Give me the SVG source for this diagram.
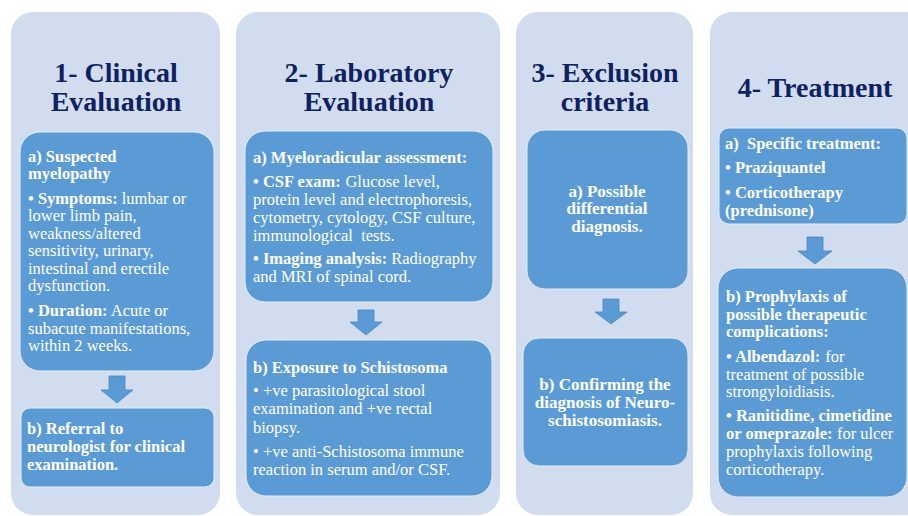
<svg xmlns="http://www.w3.org/2000/svg" width="908" height="516" viewBox="0 0 908 516">
<style>
.col{fill:#D1DDEE}
.box{fill:#5B9BD5;stroke:#E3ECF7;stroke-width:1}
.arr{fill:#5B9BD5;stroke:#4A86C2;stroke-width:0.8}
.title{font-weight:bold;font-size:28px;fill:#0E2160;text-anchor:middle}
.t{font-size:16.5px;fill:#FFFFFF}
.b{font-weight:bold}
.c{text-anchor:middle;font-weight:bold;font-size:17px}
</style>
<rect width="908" height="516" fill="#FFFFFF"/>
<g font-family="'Liberation Serif', 'Times New Roman', 'DejaVu Serif', serif">
<g id="column1">
<rect class="col" x="11" y="12" width="209" height="503" rx="22"/>
<text class="title" x="116" y="82">1- Clinical</text>
<text class="title" x="116" y="111">Evaluation</text>
</g>
<g id="column2">
<rect class="col" x="236" y="12" width="264" height="503" rx="22"/>
<text class="title" x="369" y="82">2- Laboratory</text>
<text class="title" x="369" y="111">Evaluation</text>
</g>
<g id="column3">
<rect class="col" x="516" y="12" width="177" height="503" rx="22"/>
<text class="title" x="605" y="82">3- Exclusion</text>
<text class="title" x="605" y="111">criteria</text>
</g>
<g id="column4">
<rect class="col" x="710" y="12" width="230" height="503" rx="22"/>
<text class="title" x="815" y="97">4- Treatment</text>
</g>

<g id="c1a">
<rect class="box" x="20" y="132" width="194" height="239" rx="20"/>
<text class="t"><tspan class="b" x="28" y="162">a) Suspected</tspan><tspan class="b" x="28" y="179">myelopathy</tspan><tspan class="b" x="28" y="204">• Symptoms:</tspan><tspan x="117.6" y="204"> lumbar or</tspan><tspan x="28" y="221">lower limb pain,</tspan><tspan x="28" y="239">weakness/altered</tspan><tspan x="28" y="256">sensitivity, urinary,</tspan><tspan x="28" y="274">intestinal and erectile</tspan><tspan x="28" y="291">dysfunction.</tspan><tspan class="b" x="28" y="316">• Duration:</tspan><tspan x="107.6" y="316"> Acute or</tspan><tspan x="28" y="334">subacute manifestations,</tspan><tspan x="28" y="351">within 2 weeks.</tspan></text>
</g>
<g id="c1b">
<rect class="box" x="21" y="408" width="193" height="79" rx="9"/>
<text class="t b"><tspan x="27" y="434">b) Referral to</tspan><tspan x="27" y="452">neurologist for clinical</tspan><tspan x="27" y="470">examination.</tspan></text>
</g>

<g id="c2a">
<rect class="box" x="245" y="131" width="248" height="171" rx="20"/>
<text class="t"><tspan class="b" x="253" y="163">a) Myeloradicular assessment:</tspan><tspan class="b" x="253" y="187">• CSF exam:</tspan><tspan x="341.3" y="187"> Glucose level,</tspan><tspan x="253" y="205">protein level and electrophoresis,</tspan><tspan x="253" y="223">cytometry, cytology, CSF culture,</tspan><tspan x="253" y="241">immunological&#160; tests.</tspan><tspan class="b" x="253" y="264">• Imaging analysis:</tspan><tspan x="387.1" y="264"> Radiography</tspan><tspan x="253" y="282">and MRI of spinal cord.</tspan></text>
</g>
<g id="c2b">
<rect class="box" x="246" y="340" width="246" height="156" rx="20"/>
<text class="t"><tspan class="b" x="253" y="373">b) Exposure to Schistosoma</tspan><tspan x="253" y="396">• +ve parasitological stool</tspan><tspan x="253" y="414">examination and +ve rectal</tspan><tspan x="253" y="433">biopsy.</tspan><tspan x="253" y="457">• +ve anti-Schistosoma immune</tspan><tspan x="253" y="475">reaction in serum and/or CSF.</tspan></text>
</g>

<g id="c3a">
<rect class="box" x="527" y="130" width="161" height="159" rx="18"/>
<text class="t c"><tspan x="607" y="197">a) Possible</tspan><tspan x="607" y="214">differential</tspan><tspan x="607" y="232">diagnosis.</tspan></text>
</g>
<g id="c3b">
<rect class="box" x="523" y="338" width="165" height="128" rx="16"/>
<text class="t c"><tspan x="605" y="390">b) Confirming the</tspan><tspan x="605" y="408">diagnosis of Neuro-</tspan><tspan x="605" y="426">schistosomiasis.</tspan></text>
</g>

<g id="c4a">
<rect class="box" x="719" y="128" width="188" height="96" rx="10"/>
<text class="t b"><tspan x="725" y="149">a)&#160; Specific treatment:</tspan><tspan x="725" y="173">• Praziquantel</tspan><tspan x="725" y="198">• Corticotherapy</tspan><tspan x="725" y="216">(prednisone)</tspan></text>
</g>
<g id="c4b">
<rect class="box" x="718" y="268" width="189" height="229" rx="20"/>
<text class="t"><tspan class="b" x="726" y="302">b) Prophylaxis of</tspan><tspan class="b" x="726" y="320">possible therapeutic</tspan><tspan class="b" x="726" y="337">complications:</tspan><tspan class="b" x="726" y="362">• Albendazol:</tspan><tspan x="821.2" y="362"> for</tspan><tspan x="726" y="380">treatment of possible</tspan><tspan x="726" y="397">strongyloidiasis.</tspan><tspan class="b" x="726" y="421">• Ranitidine, cimetidine</tspan><tspan class="b" x="726" y="439">or omeprazole:</tspan><tspan x="832.8" y="439"> for ulcer</tspan><tspan x="726" y="457">prophylaxis following</tspan><tspan x="726" y="475">corticotherapy.</tspan></text>
</g>
</g>
<g id="connectors">
<path class="arr" d="M109,376 H125 V390 H133 L117,403 L101,390 H109 Z"/>
<path class="arr" d="M358,310 H374 V322 H382 L366,335 L350,322 H358 Z"/>
<path class="arr" d="M603,299 H619 V312 H627 L611,324 L595,312 H603 Z"/>
<path class="arr" d="M807,237 H823 V251 H832 L815,264 L798,251 H807 Z"/>
</g>
</svg>
